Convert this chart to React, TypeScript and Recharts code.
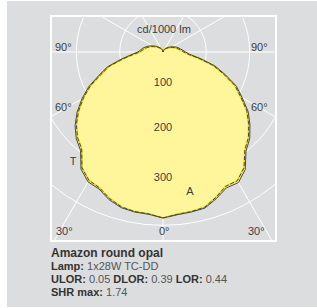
import { PolarAngleAxis, PolarGrid, PolarRadiusAxis, Radar, RadarChart } from "recharts";

// gamma angles (0 = straight down, 180 = straight up), 5 degree steps
const gammas = [
  0, 5, 10, 15, 20, 25, 30, 35, 40, 45, 50, 55, 60, 65, 70, 75, 80, 85, 90,
  95, 100, 105, 110, 115, 120, 125, 130, 135, 140, 145, 150, 155, 160, 165, 170, 175, 180,
];

// solid curve (cd/1000 lm), right half and left half
const solidRight = [
  383, 377, 375, 373, 360, 346, 348, 331, 298, 283, 262, 240, 211, 187, 153, 124, 88, 62, 52,
  46, 41, 37, 33, 28, 24, 20, 17, 14, 12, 10, 8, 6, 5, 4, 2, 1, 0,
];
const solidLeft = [
  383, 376, 375, 372, 363, 349, 346, 330, 296, 283, 265, 242, 216, 189, 157, 133, 99, 74, 58,
  52, 48, 43, 38, 33, 28, 24, 20, 17, 14, 12, 10, 8, 6, 4, 3, 1, 0,
];

// dashed curve, sits just inside the solid one
const dashedRight = [
  383, 376, 374, 371, 357, 342, 343, 326, 294, 279, 258, 236, 207, 183, 149, 120, 84, 58, 48,
  42, 37, 33, 29, 25, 21, 18, 15, 12, 10, 8, 7, 5, 4, 3, 2, 1, 0,
];
const dashedLeft = [
  383, 375, 374, 370, 360, 346, 342, 326, 292, 279, 261, 238, 212, 185, 153, 129, 95, 70, 54,
  48, 44, 39, 34, 30, 25, 21, 18, 15, 12, 10, 8, 6, 5, 3, 2, 1, 0,
];

const gridValues = [100, 200, 300, 400];
const gridAngles = [0, 30, 60, 120, 150, 180, 210, 240, 270, 300, 330];
const R_MAX = 600;
const OUTER = 260;
// radar puts each category one band (5deg) past the start angle
const STEP = 360 / ((gammas.length - 1) * 2);

const chartData: { angle: string; solid: number; dashed: number }[] = [];
gammas.forEach((g, i) => {
  chartData.push({ angle: `R${g}`, solid: solidRight[i], dashed: dashedRight[i] });
});
for (let i = gammas.length - 2; i >= 1; i--) {
  chartData.push({ angle: `L${gammas[i]}`, solid: solidLeft[i], dashed: dashedLeft[i] });
}

const FONT = "'Liberation Sans', Arial, sans-serif";
const labelColor = "#3d3d3d";

type Lbl = { text: string; x: number; y: number; anchor?: "left" | "center" };
const chartLabels: Lbl[] = [
  { text: "cd/1000 lm", x: 164, y: 29, anchor: "center" },
  { text: "90°", x: 55, y: 47 },
  { text: "90°", x: 251, y: 47 },
  { text: "60°", x: 55, y: 107 },
  { text: "60°", x: 251, y: 107 },
  { text: "100", x: 163, y: 82, anchor: "center" },
  { text: "200", x: 163, y: 126.5, anchor: "center" },
  { text: "300", x: 163, y: 177, anchor: "center" },
  { text: "T", x: 73, y: 161, anchor: "center" },
  { text: "A", x: 190, y: 190.5, anchor: "center" },
  { text: "30°", x: 56, y: 231 },
  { text: "0°", x: 159, y: 231 },
  { text: "30°", x: 248, y: 231 },
];

function Label({ text, x, y, anchor = "left" }: Lbl) {
  return (
    <div
      style={{
        position: "absolute",
        left: anchor === "center" ? x - 40 : x,
        width: anchor === "center" ? 80 : undefined,
        textAlign: anchor === "center" ? "center" : "left",
        top: y - 7,
        height: 14,
        lineHeight: "14px",
        fontSize: 11,
        fontFamily: FONT,
        color: labelColor,
        whiteSpace: "nowrap",
      }}
    >
      {text}
    </div>
  );
}

const info: { bold: string; rest: string }[][] = [
  [{ bold: "Lamp:", rest: " 1x28W TC-DD" }],
  [
    { bold: "ULOR:", rest: " 0.05 " },
    { bold: "DLOR:", rest: " 0.39 " },
    { bold: "LOR:", rest: " 0.44" },
  ],
  [{ bold: "SHR max:", rest: " 1.74" }],
];

export default function App() {
  return (
    <div
      style={{
        position: "absolute",
        left: 0,
        top: 0,
        width: 317,
        height: 308,
        background: "#fff",
        fontFamily: FONT,
      }}
    >
      <div
        style={{ position: "absolute", left: 7, top: 1, width: 310, height: 306, background: "#dcdddf" }}
      />
      <div style={{ position: "absolute", left: 52, top: 17 }}>
        <RadarChart
          width={223}
          height={223}
          data={chartData}
          cx={111}
          cy={35}
          outerRadius={OUTER}
          startAngle={-90 - STEP}
          endAngle={270 - STEP}
          margin={{ top: 0, right: 0, bottom: 0, left: 0 }}
        >
          <PolarGrid
            gridType="circle"
            stroke="#ffffff"
            strokeWidth={1}
            polarRadius={gridValues.map((v) => (v / R_MAX) * OUTER)}
            polarAngles={gridAngles}
          />
          <PolarAngleAxis dataKey="angle" tick={false} axisLine={false} />
          <PolarRadiusAxis domain={[0, R_MAX]} tick={false} axisLine={false} />
          <Radar dataKey="solid" fill="#fff69c" fillOpacity={1} stroke="none" isAnimationActive={false} />
          <Radar dataKey="dashed" fill="none" stroke="#f1df17" strokeWidth={2} isAnimationActive={false} />
          <Radar
            dataKey="dashed"
            fill="none"
            stroke="#4a4a4a"
            strokeWidth={1}
            strokeDasharray="4 2"
            isAnimationActive={false}
          />
          <Radar dataKey="solid" fill="none" stroke="#4a4a4a" strokeWidth={1} isAnimationActive={false} />
        </RadarChart>
      </div>
      <div
        style={{
          position: "absolute",
          left: 50,
          top: 15,
          width: 227,
          height: 227,
          boxSizing: "border-box",
          border: "2px solid #ffffff",
        }}
      />
      {chartLabels.map((l, i) => (
        <Label key={i} {...l} />
      ))}
      <div
        style={{
          position: "absolute",
          left: 51,
          top: 246,
          fontSize: 12,
          lineHeight: "14px",
          fontWeight: "bold",
          color: "#333",
          whiteSpace: "nowrap",
        }}
      >
        Amazon round opal
      </div>
      {info.map((line, i) => (
        <div
          key={i}
          style={{
            position: "absolute",
            left: 51,
            top: 260 + i * 13,
            fontSize: 11,
            lineHeight: "13px",
            color: "#555",
            whiteSpace: "nowrap",
          }}
        >
          {line.map((p, j) => (
            <span key={j}>
              <b style={{ color: "#333" }}>{p.bold}</b>
              {p.rest}
            </span>
          ))}
        </div>
      ))}
    </div>
  );
}
